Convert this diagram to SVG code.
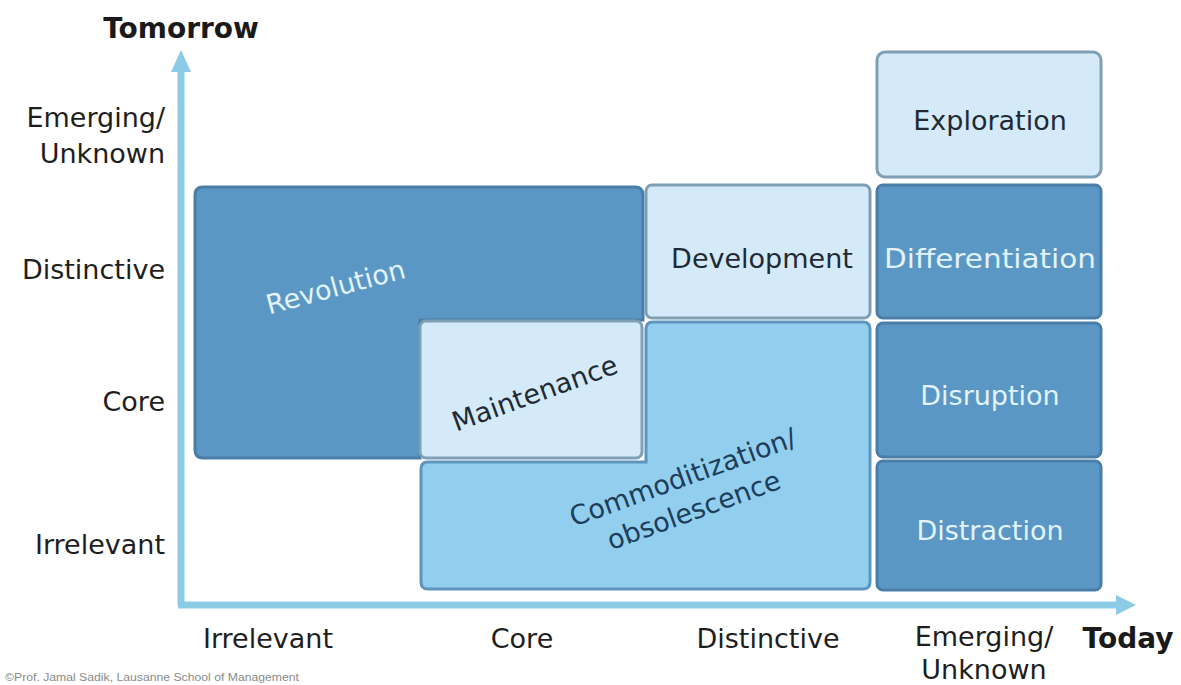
<svg xmlns="http://www.w3.org/2000/svg" width="1181" height="685" viewBox="0 0 1181 685">
<defs>
<style>
.lbl{font-family:"DejaVu Sans","Open Sans",sans-serif;font-size:27px;fill:#1e1e1e;}
.axt{font-family:"DejaVu Sans","Open Sans",sans-serif;font-size:28px;font-weight:bold;fill:#1a1a1a;}
.dark{fill:#5b97c4;stroke:#4a7ea8;stroke-width:3;}
.light{fill:#d4eaf8;stroke:#7f9fb5;stroke-width:3;}
.mid{fill:#92cfee;stroke:#5f95bd;stroke-width:3;}
.tw{font-family:"DejaVu Sans","Open Sans",sans-serif;font-size:27px;fill:#e2f3fc;text-anchor:middle;}
.tb{font-family:"DejaVu Sans","Open Sans",sans-serif;font-size:27px;fill:#1f2a35;text-anchor:middle;}
.tn{font-family:"DejaVu Sans","Open Sans",sans-serif;font-size:27px;fill:#1d3d5a;text-anchor:middle;}
.axis{stroke:#8ccbe6;stroke-width:7;fill:none;}
</style>
</defs>
<rect width="1181" height="685" fill="#ffffff"/>

<g id="axes">
<line class="axis" x1="181" y1="66" x2="181" y2="605"/>
<line class="axis" x1="178" y1="605" x2="1120" y2="605"/>
<polygon points="181,50 171,72 191,72" fill="#8ccbe6"/>
<polygon points="1136,605 1116,595 1116,615" fill="#8ccbe6"/>
</g>

<g id="axis-labels">
<text class="axt" x="181" y="38" text-anchor="middle">Tomorrow</text>
<text class="axt" x="1128" y="648" text-anchor="middle">Today</text>
<g text-anchor="end">
<text class="lbl" x="165" y="127">Emerging/</text>
<text class="lbl" x="165" y="163">Unknown</text>
<text class="lbl" x="165" y="279">Distinctive</text>
<text class="lbl" x="165" y="411">Core</text>
<text class="lbl" x="165" y="554">Irrelevant</text>
</g>
<g text-anchor="middle">
<text class="lbl" x="268" y="648">Irrelevant</text>
<text class="lbl" x="522" y="648">Core</text>
<text class="lbl" x="768" y="648">Distinctive</text>
<text class="lbl" x="984" y="646">Emerging/</text>
<text class="lbl" x="984" y="679">Unknown</text>
</g>
</g>

<g id="revolution">
<path class="dark" d="M203,187 H635 Q643,187 643,195 V320 H420 V458 H203 Q195,458 195,450 V195 Q195,187 203,187 Z"/>
<text class="tw" transform="translate(338,296) rotate(-15)">Revolution</text>
</g>

<g id="maintenance">
<rect class="light" x="420" y="321" width="222" height="137" rx="6"/>
<text class="tb" transform="translate(538,402) rotate(-20)">Maintenance</text>
</g>

<g id="development">
<rect class="light" x="646" y="185" width="224" height="133" rx="6"/>
<text class="tb" x="762" y="268">Development</text>
</g>

<g id="commoditization">
<path class="mid" d="M653,322 H863 Q870,322 870,329 V582 Q870,589 863,589 H428 Q421,589 421,582 V469 Q421,462 428,462 H646 V329 Q646,322 653,322 Z"/>
<text class="tn" transform="translate(686,486) rotate(-20)">Commoditization/</text>
<text class="tn" transform="translate(697,519) rotate(-20)">obsolescence</text>
</g>

<g id="exploration">
<rect class="light" x="877" y="52" width="224" height="125" rx="8"/>
<text class="tb" x="990" y="130">Exploration</text>
</g>

<g id="differentiation">
<rect class="dark" x="877" y="185" width="224" height="133" rx="6"/>
<text class="tw" x="990" y="268" textLength="212" lengthAdjust="spacingAndGlyphs">Differentiation</text>
</g>

<g id="disruption">
<rect class="dark" x="877" y="323" width="224" height="134" rx="6"/>
<text class="tw" x="990" y="405">Disruption</text>
</g>

<g id="distraction">
<rect class="dark" x="877" y="461" width="224" height="129" rx="6"/>
<text class="tw" x="990" y="540">Distraction</text>
</g>

<text x="5" y="681" font-family="'Liberation Sans',Arial,sans-serif" font-size="10" fill="#8a8a8a" textLength="294" lengthAdjust="spacingAndGlyphs">©Prof. Jamal Sadik, Lausanne School of Management</text>
</svg>
